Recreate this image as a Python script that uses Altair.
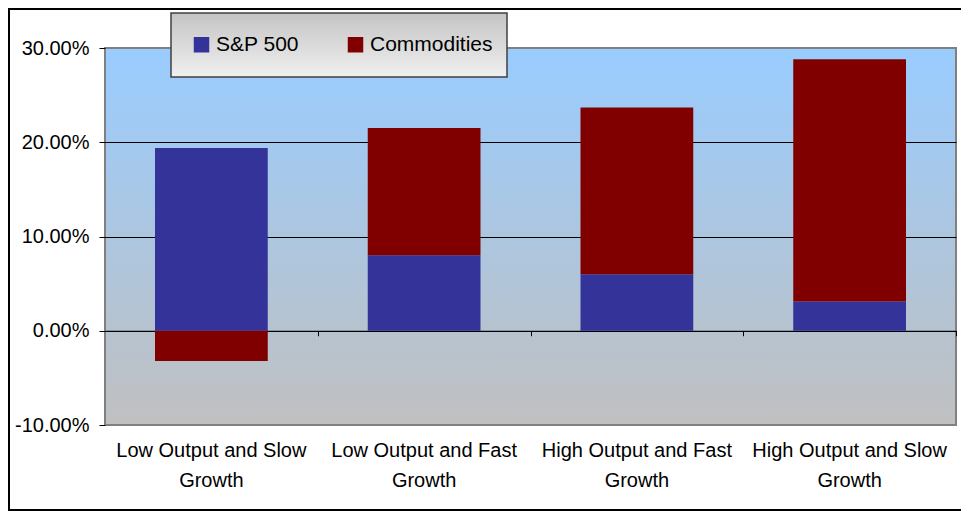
import altair as alt
import pandas as pd

categories = [
    "Low Output and Slow Growth",
    "Low Output and Fast Growth",
    "High Output and Fast Growth",
    "High Output and Slow Growth",
]
series = ["S&P 500", "Commodities"]
sp500 = [0.194, 0.080, 0.060, 0.031]
commodities = [-0.032, 0.135, 0.177, 0.257]
y_ticks = [-0.1, 0.0, 0.1, 0.2, 0.3]
colors = ["#333399", "#800000"]

rows = []
for i, c in enumerate(categories):
    rows.append({"category": c, "series": series[0], "value": sp500[i], "order": 0})
    rows.append({"category": c, "series": series[1], "value": commodities[i], "order": 1})
df = pd.DataFrame(rows)

W, H = 851, 377
FONT = "Liberation Sans"

xscale = alt.Scale(domain=categories, paddingInner=0.47, paddingOuter=0.235)
yscale = alt.Scale(domain=[-0.1, 0.3], nice=False, zero=False)

y_axis = alt.Axis(
    title=None, values=y_ticks, format=".2%",
    labelExpr="replace(datum.label, '\u2212', '-')",
    domain=False, tickColor="black", tickSize=6, tickWidth=1,
    labelFont=FONT, labelFontSize=20, labelColor="black", labelPadding=10,
    grid=True,
    gridColor={"condition": {"test": "datum.value > 0.25 || datum.value < -0.05", "value": "#808080"}, "value": "black"},
    gridWidth=1,
)

bars = alt.Chart(df).mark_bar().encode(
    x=alt.X(
        "category:N", scale=xscale, sort=categories,
        axis=alt.Axis(
            orient="bottom", title=None, domain=False, ticks=False, labelAngle=0, labelFont=FONT,
            labelFontSize=20, labelColor="black", labelPadding=15, labelLineHeight=30,
            labelLimit=0,
            labelExpr="[slice(datum.label, 0, lastindexof(datum.label, ' ')), slice(datum.label, lastindexof(datum.label, ' ') + 1)]",
        ),
    ),
    y=alt.Y("value:Q", stack="zero", scale=yscale, axis=y_axis),
    color=alt.Color(
        "series:N", scale=alt.Scale(domain=series, range=colors),
        legend=alt.Legend(
            title=None, orient="none", legendX=86, legendY=-14, direction="horizontal",
            symbolType="square", symbolSize=240, symbolStrokeWidth=0, labelFont=FONT,
            labelFontSize=21, labelColor="black", labelOffset=4, columnPadding=46, padding=0,
        ),
    ),
    order=alt.Order("order:Q"),
)

zero_axis = alt.Chart(df).mark_bar(opacity=0).encode(
    x=alt.X(
        "category:N", scale=xscale, sort=categories,
        axis=alt.Axis(
            orient="bottom", title=None, labels=False, offset=-94.25, domain=True, domainColor="black",
            domainWidth=1, ticks=True, tickColor="black", tickSize=5, tickOffset=W / 8,
            grid=False,
        ),
    ),
    y=alt.Y("value:Q", stack="zero", scale=yscale, axis=y_axis),
    color=alt.Color("series:N", scale=alt.Scale(domain=series, range=colors), legend=None),
    order=alt.Order("order:Q"),
)

one = pd.DataFrame({"k": [0]})
outer = alt.Chart(one).mark_rect(fillOpacity=0, stroke="black", strokeWidth=2).encode(
    x=alt.value(-96), x2=alt.value(880), y=alt.value(-39), y2=alt.value(462)
)
legend_box = alt.Chart(one).mark_rect(
    fill=alt.Gradient(
        gradient="linear", x1=0, y1=0, x2=0, y2=1,
        stops=[alt.GradientStop(color="#c4c4c4", offset=0), alt.GradientStop(color="#f0f0f0", offset=1)],
    ),
    stroke="#404040", strokeWidth=1.5,
).encode(x=alt.value(66), x2=alt.value(402), y=alt.value(-35), y2=alt.value(29))

chart = (
    alt.layer(bars, zero_axis, outer, legend_box)
    .resolve_axis(x="independent")
    .properties(
        width=W, height=H,
        autosize=alt.AutoSizeParams(type="none"),
        padding={"left": 105, "top": 48, "right": 5, "bottom": 88},
        background="white",
    )
    .configure_view(
        fill=alt.ExprRef(expr="{gradient: 'linear', x1: 0, y1: 0, x2: 0, y2: 1, stops: [{offset: 0, color: '#99ccff'}, {offset: 1, color: '#c0c0c0'}]}"),
        stroke="#808080", strokeWidth=2,
    )
)

chart.save("out.html", embed_options={"renderer": "svg", "actions": False})
